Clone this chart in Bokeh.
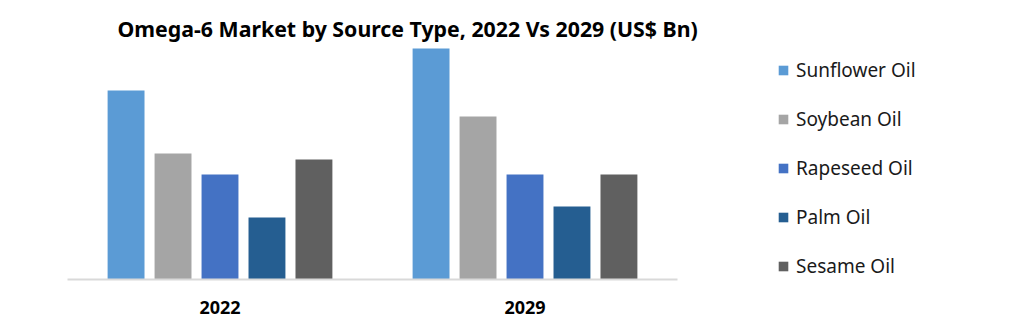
from bokeh.plotting import figure
from bokeh.models import Range1d, ColumnDataSource, Legend, LegendItem, Title, FixedTicker
from bokeh.transform import dodge
from bokeh.embed import file_html
from bokeh.resources import INLINE

years = ["2022", "2029"]
sources = ["Sunflower Oil", "Soybean Oil", "Rapeseed Oil", "Palm Oil", "Sesame Oil"]
sunflower = [6.3, 7.7]
soybean = [4.2, 5.43]
rapeseed = [3.5, 3.5]
palm = [2.07, 2.43]
sesame = [4.0, 3.5]
colors = ["#5b9bd5", "#a5a5a5", "#4472c4", "#255e91", "#606060"]

xpos = [i + 0.5 for i in range(len(years))]
src = ColumnDataSource(dict(x=xpos, year=years, s0=sunflower, s1=soybean, s2=rapeseed, s3=palm, s4=sesame))

# frame spans to the right edge so the legend can sit inside it
p = figure(width=1031, height=322, x_range=Range1d(0, 964 / 305), y_range=Range1d(0, 7.8),
           output_backend="svg", toolbar_location=None,
           min_border_left=67, min_border_right=0, min_border_bottom=43, min_border_top=45)
p.outline_line_color = None
p.grid.visible = False
p.yaxis.visible = False
p.background_fill_color = "white"

offsets = [-0.308, -0.154, 0.0, 0.154, 0.308]
items = []
for i, name in enumerate(sources):
    r = p.vbar(x=dodge("x", offsets[i]), top=f"s{i}", width=0.121,
               source=src, fill_color=colors[i], line_color=None)
    items.append(LegendItem(label=name, renderers=[r]))

ax = p.xaxis[0]
ax.bounds = (0, len(years))
ax.ticker = FixedTicker(ticks=xpos)
ax.major_label_overrides = {x: y for x, y in zip(xpos, years)}
ax.axis_line_color = "#d9d9d9"
ax.axis_line_width = 2
ax.major_tick_line_color = None
ax.minor_tick_line_color = None
ax.major_label_text_font = "Noto Sans"
ax.major_label_text_font_style = "bold"
ax.major_label_text_font_size = "18px"
ax.major_label_text_color = "#000000"
ax.major_label_standoff = 15

legend = Legend(items=items, location=(710, 0), orientation="vertical",
                glyph_width=12, glyph_height=12, label_height=20, spacing=23,
                label_standoff=7, padding=0, margin=0,
                label_text_font="Noto Sans", label_text_font_size="19px",
                label_text_color="#1a1a1a", border_line_color=None,
                background_fill_alpha=0)
p.add_layout(legend, "center")

t = Title(text="Omega-6 Market by Source Type, 2022 Vs 2029 (US$ Bn)", align="left",
          offset=50, text_font="Noto Sans", text_font_style="bold", text_font_size="21.3px",
          text_color="#000000", standoff=6)
p.add_layout(t, "above")

open("out.html", "w").write(file_html(p, INLINE))
